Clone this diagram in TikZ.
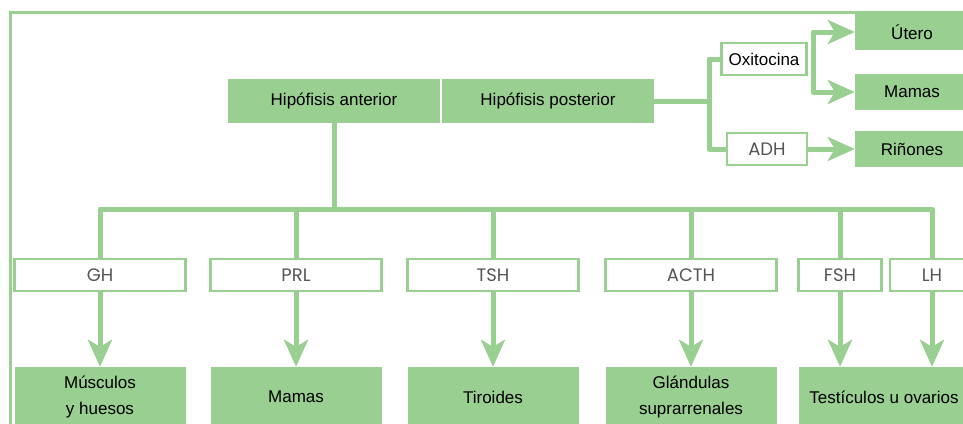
\documentclass[tikz,border=0pt]{standalone}
\usepackage{fontspec}
\setmainfont{Liberation Sans}
\newfontfamily\hormfont{Poppins}
\usetikzlibrary{arrows.meta,positioning,calc}
\definecolor{hgreen}{RGB}{153,207,144}
\definecolor{hgrey}{RGB}{85,85,85}

\begin{document}
\begin{tikzpicture}[x=1pt,y=-1pt]
\tikzstyle{gland}=[rectangle,fill=hgreen,inner sep=0pt,align=center,font=\fontsize{17}{26}\selectfont]
\tikzstyle{horm}=[rectangle,fill=white,draw=hgreen,line width=2.5pt,inner sep=0pt,minimum height=32pt,text=hgrey,font=\hormfont\fontsize{18}{20}\selectfont]
\tikzstyle{hline}=[draw=hgreen,line width=5pt,line join=round]
\tikzstyle{harrow}=[hline,-{Stealth[length=27pt,width=24pt,inset=7pt]}]

\useasboundingbox (0,0) rectangle (963,423);

% frame
\draw[hgreen,line width=3pt] (10,430) -- (10,12) -- (970,12);

%%%%%%%%%%%%%%%%%%%%%%%%%%%%%%%%%%%%%%%%%%%%%%%%%%%%%%%%%%%%%%%%%%%%%%%%
% hipofisis
\node[gland,minimum width=212pt,minimum height=44pt] (hipant) at (334,101) {Hipófisis anterior};
\node[gland,minimum width=212pt,minimum height=44pt] (hippost) at (548,101) {Hipófisis posterior};

%%%%%%%%%%%%%%%%%%%%%%%%%%%%%%%%%%%%%%%%%%%%%%%%%%%%%%%%%%%%%%%%%%%%%%%%
% posterior hormones
\node[horm,minimum width=85pt,text=black,font=\fontsize{17}{20}\selectfont] (oxi) at (764,59) {Oxitocina};
\node[horm,minimum width=80pt] (adh) at (767,149) {ADH};

% posterior targets
\node[gland,minimum width=114pt,minimum height=36pt] (utero) at (912,32) {Útero};
\node[gland,minimum width=114pt,minimum height=36pt] (mamasp) at (912,92) {Mamas};
\node[gland,minimum width=114pt,minimum height=36pt] (rinones) at (912,149) {Riñones};

%%%%%%%%%%%%%%%%%%%%%%%%%%%%%%%%%%%%%%%%%%%%%%%%%%%%%%%%%%%%%%%%%%%%%%%%
% anterior hormones
\node[horm,minimum width=171pt] (gh) at (100,275) {GH};
\node[horm,minimum width=171pt] (prl) at (296,275) {PRL};
\node[horm,minimum width=171pt] (tsh) at (493,275) {TSH};
\node[horm,minimum width=171pt] (acth) at (691,275) {ACTH};
\node[horm,minimum width=83pt] (fsh) at (840,275) {FSH};
\node[horm,minimum width=84pt] (lh) at (932,275) {LH};

% anterior targets
\node[gland,minimum width=171pt,minimum height=60pt] (musc) at (100,397) {Músculos\\y huesos};
\node[gland,minimum width=171pt,minimum height=60pt] (mamasa) at (296,397) {Mamas};
\node[gland,minimum width=171pt,minimum height=60pt] (tiro) at (493,397) {Tiroides};
\node[gland,minimum width=171pt,minimum height=60pt] (glan) at (691,397) {Glándulas\\suprarrenales};
\node[gland,minimum width=170pt,minimum height=60pt] (test) at (884,397) {Testículos u ovarios};

%%%%%%%%%%%%%%%%%%%%%%%%%%%%%%%%%%%%%%%%%%%%%%%%%%%%%%%%%%%%%%
%ARROWS

% posterior
\coordinate (postsplit) at (709,101);
\coordinate (oxisplit) at (813,59);
\draw[hline] (hippost.east) -- (postsplit);
\draw[hline] (postsplit) |- (oxi.west);
\draw[hline] (postsplit) |- (adh.west);
\draw[harrow] (oxisplit) |- (utero.west);
\draw[harrow] (oxisplit) |- (mamasp.west);
\draw[harrow] (adh.east) -- (rinones.west);

% anterior
\coordinate (antsplit) at (334,209);
\draw[hline] (hipant.south) -- (antsplit);
\foreach \h in {gh,prl,tsh,acth,fsh,lh}
  \draw[hline] (antsplit) -| (\h.north);

\draw[harrow] (gh.south) -- (musc.north);
\draw[harrow] (prl.south) -- (mamasa.north);
\draw[harrow] (tsh.south) -- (tiro.north);
\draw[harrow] (acth.south) -- (glan.north);
\draw[harrow] (fsh.south) -- (fsh.south |- test.north);
\draw[harrow] (lh.south) -- (lh.south |- test.north);

\end{tikzpicture}
\end{document}
